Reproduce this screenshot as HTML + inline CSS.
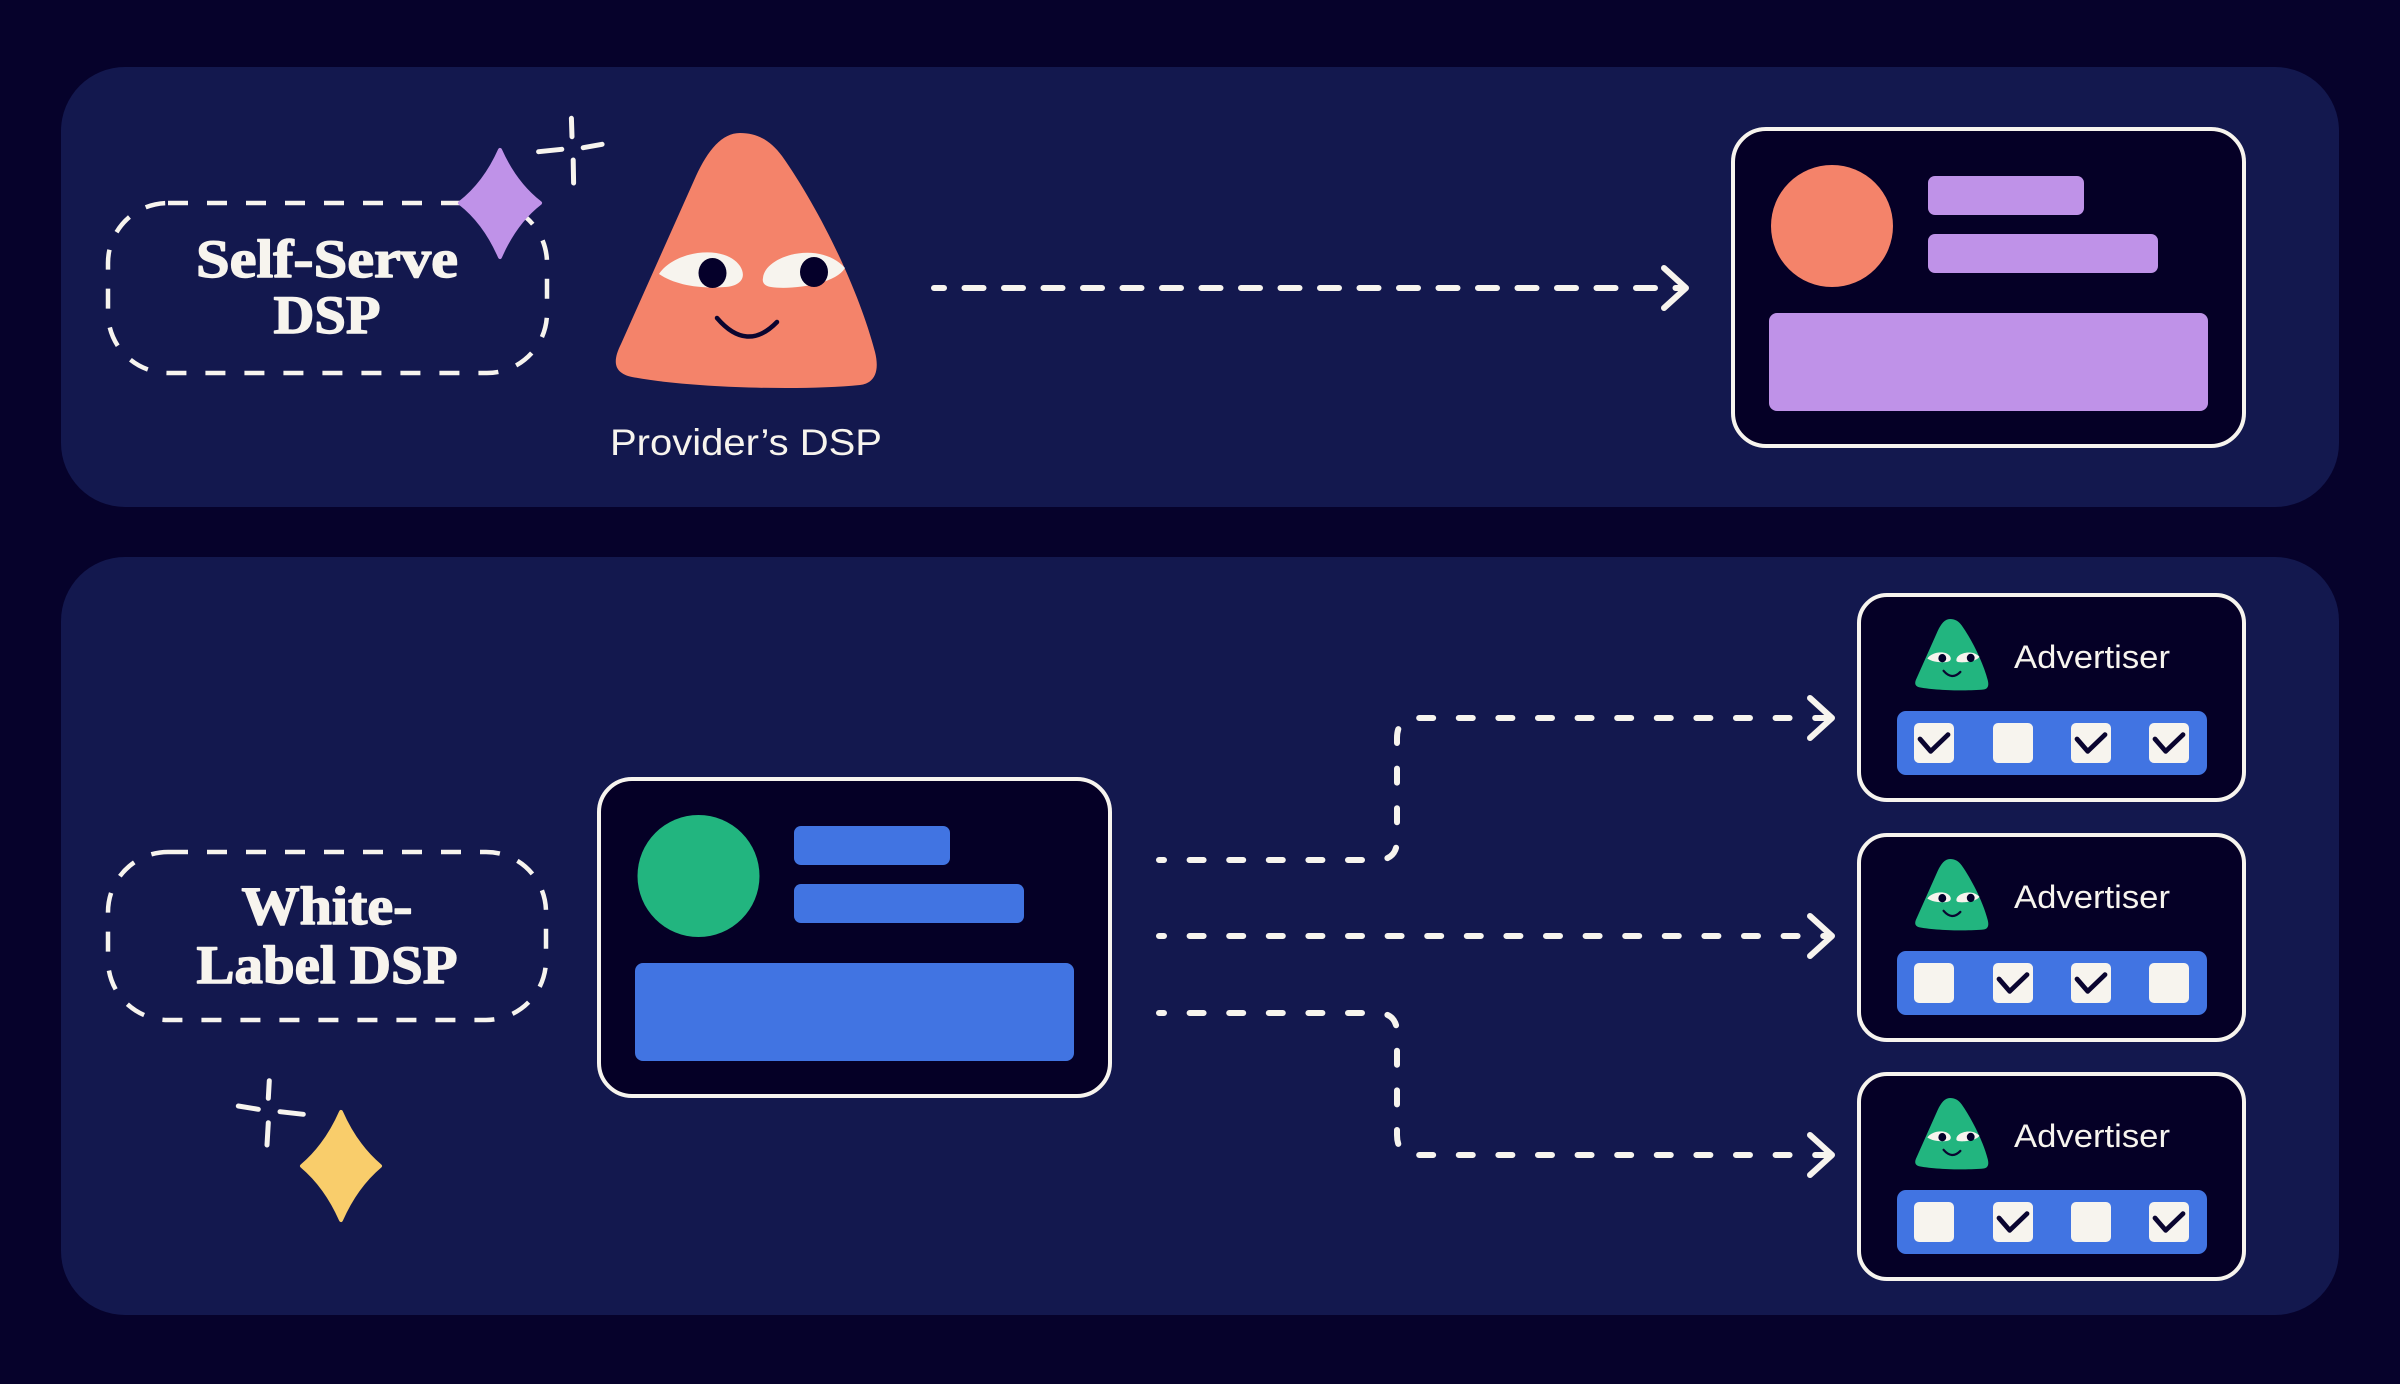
<!DOCTYPE html>
<html>
<head>
<meta charset="utf-8">
<style>
  html,body{margin:0;padding:0;background:#06022b;}
  body{width:2400px;height:1384px;overflow:hidden;}
  svg{display:block;}
</style>
</head>
<body>
<svg width="2400" height="1384" viewBox="0 0 2400 1384" xmlns="http://www.w3.org/2000/svg">
  <defs>
    <g id="face">
      <path d="M740 133 C722 133 708 150 696 176 L621 344 C612 362 614 373 632 377 C690 388 800 391 860 385 C877 383 879 368 875 352 C858 287 818 207 782 156 C770 140 757 133 740 133 Z"/>
      <path d="M659 274 C675 250 725 244 740 266 C747 277 741 286 725 287 C700 289 675 285 659 274 Z" fill="#f7f4ee"/>
      <path d="M763 278 C765 255 820 240 845 268 C835 285 790 290 771 287 C764 286 762 282 763 278 Z" fill="#f7f4ee"/>
      <ellipse cx="712.5" cy="273" rx="14" ry="15" fill="#05002a"/>
      <ellipse cx="814" cy="272" rx="14" ry="15" fill="#05002a"/>
    </g>
    <g id="chk"><path d="M6 16 L16.7 28.3 L34 11.7" fill="none" stroke="#0a0530" stroke-width="4.8" stroke-linecap="round" stroke-linejoin="round"/></g>
  </defs>

  <rect x="0" y="0" width="2400" height="1384" fill="#06022b"/>

  <!-- panels -->
  <rect x="61" y="67" width="2278" height="440" rx="64" fill="#13184e"/>
  <rect x="61" y="557" width="2278" height="758" rx="64" fill="#13184e"/>

  <!-- Self-Serve dashed box -->
  <rect x="108" y="203" width="439" height="170" rx="60" fill="none" stroke="#f7f4ee" stroke-width="4.5" stroke-dasharray="20 19"/>
  <g font-family="'Liberation Serif', serif" font-weight="bold" font-size="54" fill="#f7f4ee" stroke="#f7f4ee" stroke-width="1.4" stroke-linejoin="round">
    <text x="327" y="277" text-anchor="middle" textLength="262" lengthAdjust="spacingAndGlyphs">Self-Serve</text>
    <text x="327" y="333" text-anchor="middle" textLength="107" lengthAdjust="spacingAndGlyphs">DSP</text>
  </g>

  <!-- purple sparkle -->
  <path d="M500 150 Q515.1 183.8 540 203 Q515.1 222.2 500 257 Q484.9 222.2 460 203 Q484.9 183.8 500 150 Z" fill="#bf92e8" stroke="#bf92e8" stroke-width="4" stroke-linejoin="round"/>
  <g stroke="#f7f4ee" stroke-width="5" stroke-linecap="round" fill="none">
    <line x1="571.4" y1="118.3" x2="572" y2="136.7"/>
    <line x1="573.2" y1="160" x2="573.6" y2="183"/>
    <line x1="538.6" y1="151.7" x2="561.8" y2="149.3"/>
    <line x1="583.2" y1="147.7" x2="602.1" y2="144.3"/>
  </g>

  <!-- Provider's DSP character -->
  <use href="#face" fill="#f4836a"/>
  <path d="M717 318 Q747 353 777 322" fill="none" stroke="#0a0530" stroke-width="4.5" stroke-linecap="round"/>
  <text x="746" y="455" text-anchor="middle" font-family="'Liberation Sans', sans-serif" font-size="37" fill="#f7f4ee" textLength="272" lengthAdjust="spacingAndGlyphs">Provider’s DSP</text>

  <!-- top arrow -->
  <path d="M934 288 H1684" fill="none" stroke="#f7f4ee" stroke-width="6" stroke-linecap="round" stroke-dasharray="19 20.5" stroke-dashoffset="9"/>
  <path d="M1664 268 L1686 288 L1664 308" fill="none" stroke="#f7f4ee" stroke-width="6" stroke-linecap="round" stroke-linejoin="round"/>

  <!-- top card -->
  <rect x="1733" y="129" width="511" height="317" rx="33" fill="#050026" stroke="#f7f4ee" stroke-width="4"/>
  <circle cx="1832" cy="226" r="61" fill="#f4836a"/>
  <rect x="1928" y="176" width="156" height="39" rx="7" fill="#bf92e8"/>
  <rect x="1928" y="234" width="230" height="39" rx="7" fill="#bf92e8"/>
  <rect x="1769" y="313" width="439" height="98" rx="8" fill="#bf92e8"/>

  <!-- White-Label dashed box -->
  <rect x="108" y="852" width="438" height="168" rx="60" fill="none" stroke="#f7f4ee" stroke-width="4.5" stroke-dasharray="20 19"/>
  <g font-family="'Liberation Serif', serif" font-weight="bold" font-size="54" fill="#f7f4ee" stroke="#f7f4ee" stroke-width="1.4" stroke-linejoin="round">
    <text x="327" y="924" text-anchor="middle" textLength="171" lengthAdjust="spacingAndGlyphs">White-</text>
    <text x="327" y="983" text-anchor="middle" textLength="261" lengthAdjust="spacingAndGlyphs">Label DSP</text>
  </g>

  <!-- yellow sparkle -->
  <path d="M341 1112 Q355.8 1145.6 380 1166 Q355.8 1186.4 341 1220 Q326.2 1186.4 302 1166 Q326.2 1145.6 341 1112 Z" fill="#f9cd6b" stroke="#f9cd6b" stroke-width="4" stroke-linejoin="round"/>
  <g stroke="#f7f4ee" stroke-width="5" stroke-linecap="round" fill="none">
    <line x1="269.3" y1="1080.7" x2="268.3" y2="1098.3"/>
    <line x1="268.3" y1="1122.7" x2="267" y2="1145"/>
    <line x1="238.3" y1="1106" x2="258.3" y2="1109.3"/>
    <line x1="280" y1="1111.7" x2="303.3" y2="1114.3"/>
  </g>

  <!-- middle card -->
  <rect x="599" y="779" width="511" height="317" rx="33" fill="#050026" stroke="#f7f4ee" stroke-width="4"/>
  <circle cx="698.5" cy="876" r="61" fill="#22b57f"/>
  <rect x="794" y="826" width="156" height="39" rx="7" fill="#4174e2"/>
  <rect x="794" y="884" width="230" height="39" rx="7" fill="#4174e2"/>
  <rect x="635" y="963" width="439" height="98" rx="8" fill="#4174e2"/>

  <!-- connectors -->
  <g fill="none" stroke="#f7f4ee" stroke-width="6" stroke-linecap="round" stroke-linejoin="round">
    <path d="M1159 860 H1377 Q1397 860 1397 840 V738 Q1397 718 1417 718 H1828" stroke-dasharray="14 25.6" stroke-dashoffset="9"/>
    <path d="M1159 936 H1828" stroke-dasharray="14 25.6" stroke-dashoffset="9"/>
    <path d="M1159 1013 H1377 Q1397 1013 1397 1033 V1135 Q1397 1155 1417 1155 H1828" stroke-dasharray="14 25.6" stroke-dashoffset="9"/>
    <path d="M1810 698 L1832 718 L1810 738"/>
    <path d="M1810 916 L1832 936 L1810 956"/>
    <path d="M1810 1135 L1832 1155 L1810 1175"/>
  </g>

  <!-- advertiser card 1 -->
  <g>
    <rect x="1859" y="595" width="385" height="205" rx="28" fill="#050026" stroke="#f7f4ee" stroke-width="4"/>
    <g transform="translate(1950 619) scale(0.28) translate(-740 -133)">
      <use href="#face" fill="#22b57f"/>
      <path d="M717 318 Q747 353 777 322" fill="none" stroke="#0a0530" stroke-width="8" stroke-linecap="round"/>
    </g>
    <text x="2014" y="668" font-family="'Liberation Sans', sans-serif" font-size="32" fill="#f7f4ee" textLength="156" lengthAdjust="spacingAndGlyphs">Advertiser</text>
    <rect x="1897" y="711" width="310" height="64" rx="9" fill="#4174e2"/>
    <rect x="1914" y="723" width="40" height="40" rx="5" fill="#f7f4ee"/>
    <rect x="1993" y="723" width="40" height="40" rx="5" fill="#f7f4ee"/>
    <rect x="2071" y="723" width="40" height="40" rx="5" fill="#f7f4ee"/>
    <rect x="2149" y="723" width="40" height="40" rx="5" fill="#f7f4ee"/>
    <use href="#chk" x="1914" y="723"/>
    <use href="#chk" x="2071" y="723"/>
    <use href="#chk" x="2149" y="723"/>
  </g>

  <!-- advertiser card 2 -->
  <g>
    <rect x="1859" y="835" width="385" height="205" rx="28" fill="#050026" stroke="#f7f4ee" stroke-width="4"/>
    <g transform="translate(1950 859) scale(0.28) translate(-740 -133)">
      <use href="#face" fill="#22b57f"/>
      <path d="M717 318 Q747 353 777 322" fill="none" stroke="#0a0530" stroke-width="8" stroke-linecap="round"/>
    </g>
    <text x="2014" y="908" font-family="'Liberation Sans', sans-serif" font-size="32" fill="#f7f4ee" textLength="156" lengthAdjust="spacingAndGlyphs">Advertiser</text>
    <rect x="1897" y="951" width="310" height="64" rx="9" fill="#4174e2"/>
    <rect x="1914" y="963" width="40" height="40" rx="5" fill="#f7f4ee"/>
    <rect x="1993" y="963" width="40" height="40" rx="5" fill="#f7f4ee"/>
    <rect x="2071" y="963" width="40" height="40" rx="5" fill="#f7f4ee"/>
    <rect x="2149" y="963" width="40" height="40" rx="5" fill="#f7f4ee"/>
    <use href="#chk" x="1993" y="963"/>
    <use href="#chk" x="2071" y="963"/>
  </g>

  <!-- advertiser card 3 -->
  <g>
    <rect x="1859" y="1074" width="385" height="205" rx="28" fill="#050026" stroke="#f7f4ee" stroke-width="4"/>
    <g transform="translate(1950 1098) scale(0.28) translate(-740 -133)">
      <use href="#face" fill="#22b57f"/>
      <path d="M717 318 Q747 353 777 322" fill="none" stroke="#0a0530" stroke-width="8" stroke-linecap="round"/>
    </g>
    <text x="2014" y="1147" font-family="'Liberation Sans', sans-serif" font-size="32" fill="#f7f4ee" textLength="156" lengthAdjust="spacingAndGlyphs">Advertiser</text>
    <rect x="1897" y="1190" width="310" height="64" rx="9" fill="#4174e2"/>
    <rect x="1914" y="1202" width="40" height="40" rx="5" fill="#f7f4ee"/>
    <rect x="1993" y="1202" width="40" height="40" rx="5" fill="#f7f4ee"/>
    <rect x="2071" y="1202" width="40" height="40" rx="5" fill="#f7f4ee"/>
    <rect x="2149" y="1202" width="40" height="40" rx="5" fill="#f7f4ee"/>
    <use href="#chk" x="1993" y="1202"/>
    <use href="#chk" x="2149" y="1202"/>
  </g>
</svg>
</body>
</html>
